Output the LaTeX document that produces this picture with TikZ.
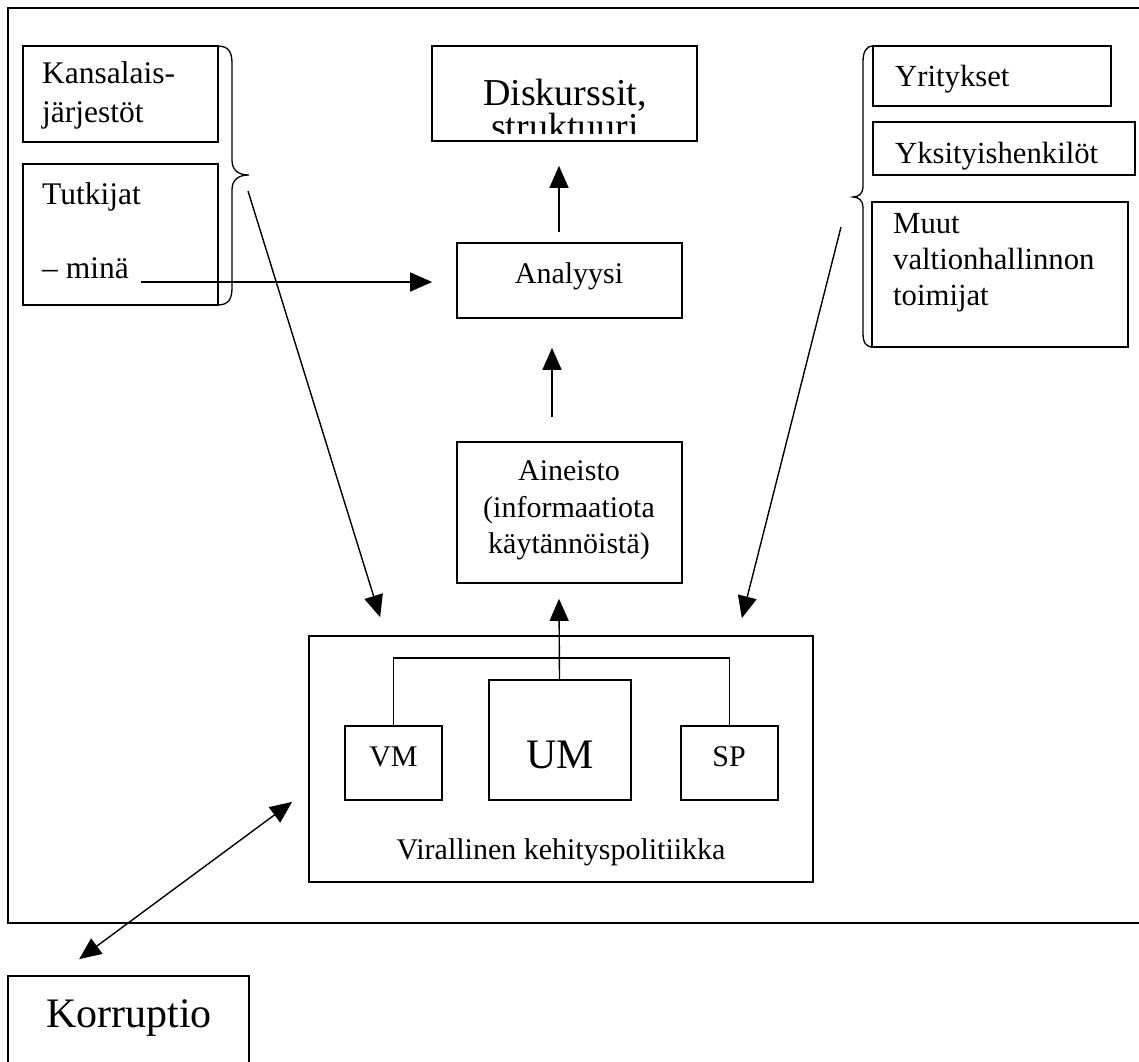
\documentclass[tikz,border=0pt]{standalone}
\usepackage{fontspec}
\setmainfont{Liberation Serif}
\usetikzlibrary{arrows.meta,calc}
\newcommand\myfsn{\fontsize{30}{36}\selectfont}
\newcommand\myfsl{\fontsize{31.5}{37}\selectfont}
\newcommand\myfsr{\fontsize{30.7}{36}\selectfont}
\newcommand\myfsd{\fontsize{38}{44}\selectfont}
\newcommand\myfsb{\fontsize{42}{48}\selectfont}
\begin{document}
\begin{tikzpicture}[x=1pt,y=-1pt,
  box/.style={draw, line width=1.7pt, inner sep=0pt},
  txt/.style={inner sep=0pt, font=\myfsn},
  arr/.style={line width=1.4pt, -{Triangle[length=22pt,width=19pt]}},
  darr/.style={line width=1.4pt, {Triangle[length=22pt,width=19pt]}-{Triangle[length=22pt,width=19pt]}},
  brace/.style={line width=1.3pt},
  conn/.style={line width=1.4pt}]
\useasboundingbox (0,0) rectangle (1139,1061);
\clip (0,0) rectangle (1139,1061);
\fill[white] (0,0) rectangle (1139,1061);

% outer frame (right side runs off the page)
\draw[line width=1.8pt] (1160,8) -- (8,8) -- (8,923) -- (1160,923);

% left boxes
\node[box, minimum width=195pt, minimum height=96pt] (kans) at (120.5,94) {};
\node[txt, font=\myfsl, anchor=base west] (kans1) at (42,83) {Kansalais-};
\node[txt, font=\myfsl, anchor=base west] (kans2) at (42,122) {järjestöt};
\node[box, minimum width=195pt, minimum height=141pt] (tutk) at (120.5,234.5) {};
\node[txt, font=\myfsl, anchor=base west] (tutk1) at (42,204) {Tutkijat};
\node[txt, font=\myfsl, anchor=base west] (mina) at (42,278) {– minä};

% left brace
\draw[brace] (217,46) .. controls (229,46) and (232,52) .. (232,64) -- (232,160)
  .. controls (232,170) and (238,175) .. (249,175)
  .. controls (238,175) and (232,180) .. (232,190) -- (232,287)
  .. controls (232,299) and (229,305) .. (217,305);
\coordinate (lbrace) at (249,175);

% centre column
\node[box, minimum width=265pt, minimum height=95pt] (disk) at (564.5,93.5) {};
\node[txt, font=\myfsd, anchor=base] (disk1) at (565,105) {Diskurssit,};
\begin{scope}
\clip (433,47) rectangle (696,133);
\node[txt, font=\myfsd, anchor=base] (disk2) at (565,139) {struktuuri};
\end{scope}

\node[box, minimum width=225pt, minimum height=75pt] (anal) at (569.5,280.5) {};
\node[txt, anchor=base] (anal1) at (569,283) {Analyysi};

\node[box, minimum width=225pt, minimum height=141pt] (aine) at (569.5,512.5) {};
\node[txt, anchor=base] (aine1) at (569,480) {Aineisto};
\node[txt, anchor=base] (aine2) at (569,517) {(informaatiota};
\node[txt, anchor=base] (aine3) at (569,553) {käytännöistä)};

% right boxes
\node[box, minimum width=238pt, minimum height=60pt] (yrit) at (992,76) {};
\node[txt, font=\myfsr, anchor=base west] (yrit1) at (895,86) {Yritykset};
\node[box, minimum width=262pt, minimum height=53pt] (yksi) at (1004,148.5) {};
\node[txt, font=\myfsr, anchor=base west] (yksi1) at (895,163) {Yksityishenkilöt};
\node[box, minimum width=256pt, minimum height=145pt] (muut) at (1000,274.5) {};
\node[txt, font=\myfsr, anchor=base west] (muut1) at (893,233) {Muut};
\node[txt, font=\myfsr, anchor=base west] (muut2) at (893,269) {valtionhallinnon};
\node[txt, font=\myfsr, anchor=base west] (muut3) at (893,305) {toimijat};

% right brace
\draw[brace] (873,46) .. controls (866,46) and (863,52) .. (863,62) -- (863,187)
  .. controls (863,193) and (859,197) .. (853,197)
  .. controls (859,197) and (863,201) .. (863,207) -- (863,333)
  .. controls (863,343) and (866,347) .. (873,347);
\coordinate (rbrace) at (853,197);

% official policy box
\node[box, minimum width=504pt, minimum height=246pt] (vira) at (561,759) {};
\node[txt, anchor=base] (vira1) at (561,859) {Virallinen kehityspolitiikka};
\node[box, minimum width=97pt, minimum height=74pt] (vm) at (393.5,763) {};
\node[txt, anchor=base] (vm1) at (393.5,766) {VM};
\node[box, minimum width=142pt, minimum height=120pt] (um) at (560,740) {};
\node[txt, font=\myfsb, anchor=base] (um1) at (560,768) {UM};
\node[box, minimum width=97pt, minimum height=74pt] (sp) at (729.5,763) {};
\node[txt, anchor=base] (sp1) at (729,766) {SP};

% Korruptio
\node[box, minimum width=241pt, minimum height=99pt] (korr) at (128.5,1025.5) {};
\node[txt, font=\myfsb, anchor=base] (korr1) at (129,1027) {Korruptio};

% connectors
\coordinate (bus) at (0,658);
\draw[conn] (vm.north) -- (vm.north |- bus) -- (sp.north |- bus) -- (sp.north);
\draw[arr] ([xshift=-0.5pt]um.north) -- ($(aine.south)+(-10.5,15)$);
\draw[arr] ($(aine.north)+(-17.5,-24)$) -- ($(anal.south)+(-17.5,29)$);
\draw[arr] ($(anal.north)+(-10.5,-10)$) -- ($(disk.south)+(-5.5,24)$);
\draw[arr] ($(mina.base east)+(12,4)$) -- ($(anal.west)+(-24,1.5)$);
\draw[arr] ($(lbrace)+(-1,16)$) -- ($(vira.north west)+(72,-18)$);
\draw[arr] ($(rbrace)+(-12,30)$) -- ($(vira.north east)+(-72,-17)$);
\draw[darr] ($(korr.north west)+(72,-16)$) -- ($(vira.south west)+(-16,-81)$);
\end{tikzpicture}
\end{document}
